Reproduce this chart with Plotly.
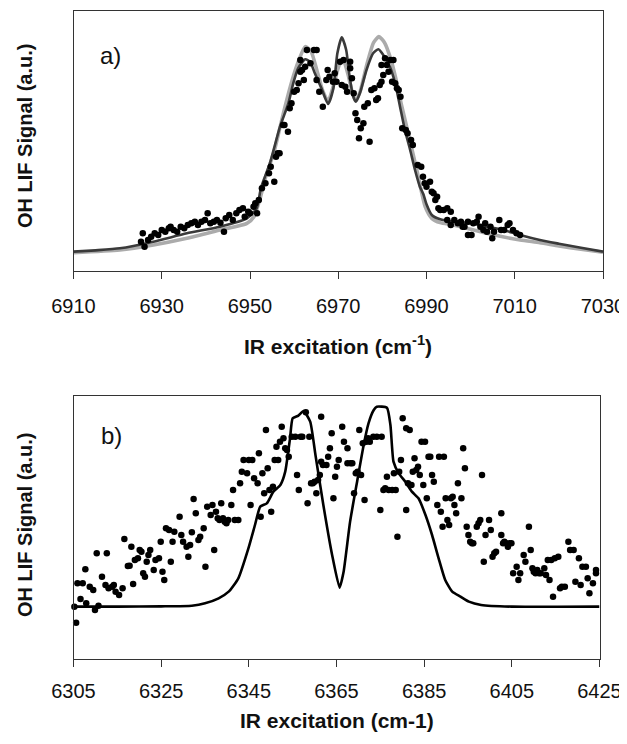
import plotly.graph_objects as go

# ---------------- Panel a) data ----------------
a_fit_dark_x = [6910, 6915, 6920.5, 6928.1, 6935.7, 6943.2, 6949.3, 6951.5, 6952.5, 6954.5, 6956.8,
                6958.7, 6959.8, 6960.9, 6962.5, 6963.6, 6964.7, 6966.2, 6967.7, 6968.9, 6969.8,
                6970.8, 6971.8, 6972.5, 6973.4, 6974.0, 6974.9, 6976.4, 6977.9, 6979.1, 6980.2,
                6981.7, 6982.9, 6984.0, 6985.1, 6986.3, 6987.4, 6988.5, 6989.3, 6990.0, 6991.2,
                6993.1, 6996.1, 6999.9, 7003.6, 7007.4, 7011.2, 7015.7, 7020, 7025, 7030]
a_fit_dark_y = [0.58, 0.62, 0.68, 0.88, 1.13, 1.33, 1.58, 1.88, 2.50, 3.23, 4.33,
                5.03, 5.63, 6.08, 6.35, 6.28, 5.93, 5.48, 5.01, 5.48, 6.53,
                7.01, 6.63, 5.90, 5.23, 5.08, 5.33, 6.03, 6.53, 6.65, 6.48,
                6.13, 5.63, 4.93, 4.23, 3.63, 3.03, 2.53, 2.30, 2.00, 1.68,
                1.55, 1.48, 1.43, 1.33, 1.23, 1.08, 0.93, 0.82, 0.70, 0.58]

a_fit_gray_x = [6910, 6920.5, 6928.1, 6935.7, 6943.2, 6949.3, 6950.9, 6952.2, 6953.5, 6955.5,
                6957.5, 6959.5, 6961, 6962.5, 6963.8, 6965.2, 6966.5, 6967.7, 6969, 6970.3,
                6971.2, 6972.2, 6973.3, 6974.0, 6975, 6976.5, 6978, 6979.2, 6980.5, 6981.8,
                6983, 6984.3, 6985.5, 6987.8, 6989.7, 6991.2, 6993.1, 6996.1, 7003.6, 7011.2,
                7015.7, 7020, 7025, 7030]
a_fit_gray_y = [0.55, 0.63, 0.78, 0.98, 1.23, 1.43, 1.63, 2.13, 2.80, 3.60,
                4.70, 5.70, 6.30, 6.73, 6.60, 6.00, 5.40, 5.10, 5.60, 6.20,
                6.30, 5.90, 5.30, 5.10, 5.40, 6.20, 6.85, 7.03, 6.85, 6.40,
                5.80, 5.00, 4.33, 3.03, 1.93, 1.58, 1.45, 1.38, 1.13, 0.93,
                0.85, 0.75, 0.65, 0.56]

a_data_x = [6925.7, 6925.3, 6926.1, 6926.9, 6927.6, 6928.4, 6929.2, 6930.0, 6930.8, 6931.6,
            6932.0, 6932.7, 6933.5, 6934.3, 6935.1, 6935.9, 6936.7, 6937.5, 6938.2, 6939.0,
            6939.8, 6940.4, 6941.0, 6941.8, 6942.5, 6943.3, 6944.1, 6944.5, 6945.3, 6946.1,
            6946.9, 6947.6, 6948.4, 6948.8, 6949.6, 6950.0, 6950.8, 6951.2, 6952.0, 6951.6,
            6952.7, 6953.5, 6954.3, 6954.7, 6955.5, 6955.9, 6956.3, 6956.7, 6957.5, 6957.8,
            6958.6, 6959.0, 6959.4, 6960.0, 6960.6, 6961.0, 6961.4, 6961.8, 6962.2, 6961.4,
            6962.5, 6962.9, 6963.7, 6964.5, 6965.1, 6965.1, 6965.7, 6966.5, 6967.3, 6967.6,
            6968.0, 6968.8, 6969.2, 6969.6, 6970.4, 6970.8, 6971.6, 6972.0, 6971.2, 6972.7,
            6972.7, 6973.1, 6973.5, 6973.9, 6974.3, 6975.1, 6974.7, 6975.7, 6977.1, 6975.9,
            6976.7, 6977.5, 6978.2, 6978.6, 6979.0, 6979.4, 6979.8, 6980.2, 6979.8, 6980.6,
            6981.0, 6981.8, 6982.5, 6981.4, 6982.2, 6982.9, 6983.3, 6983.7, 6984.1, 6984.5,
            6985.3, 6985.7, 6986.5, 6986.9, 6988.0, 6988.8, 6989.2, 6989.6, 6990.0, 6990.8,
            6991.2, 6991.6, 6992.0, 6992.4, 6992.7, 6993.1, 6993.9, 6994.7, 6995.5, 6994.7,
            6995.5, 6996.3, 6997.1, 6997.8, 6998.6, 6999.4, 7000.2, 7000.6, 7001.4, 7001.8,
            7002.2, 7002.9, 7003.3, 7003.7, 7004.5, 7005.3, 7004.9, 7006.5, 7006.9, 7007.6,
            7008.4, 7008.8, 7009.6, 7010.4, 7011.2, 6999.4, 6998.2]
a_data_y = [1.13, 0.88, 0.73, 0.93, 1.03, 1.13, 1.08, 1.23, 1.18, 1.28,
            1.33, 1.23, 1.18, 1.33, 1.28, 1.38, 1.43, 1.48, 1.38, 1.48,
            1.53, 1.73, 1.43, 1.48, 1.53, 1.45, 1.18, 1.58, 1.68, 1.53,
            1.73, 1.83, 1.88, 1.63, 1.78, 1.73, 1.93, 2.03, 2.13, 1.73,
            2.48, 2.63, 2.93, 3.13, 2.68, 3.43, 3.53, 3.53, 4.38, 4.38,
            4.18, 4.88, 5.03, 5.38, 5.43, 5.63, 5.98, 6.03, 5.73, 6.33,
            6.13, 6.63, 6.23, 6.63, 6.63, 5.73, 5.38, 4.93, 5.73, 6.03,
            5.83, 5.68, 5.93, 5.68, 6.28, 5.58, 5.53, 5.38, 6.33, 6.28,
            6.08, 5.78, 5.33, 4.73, 4.53, 4.28, 3.98, 4.43, 3.88, 4.93,
            5.03, 5.43, 5.48, 5.13, 5.18, 5.58, 5.68, 5.88, 6.18, 6.38,
            6.18, 6.33, 6.33, 5.98, 5.68, 5.63, 5.48, 5.43, 5.23, 4.28,
            4.23, 4.13, 3.93, 3.78, 3.18, 3.13, 2.83, 2.63, 2.53, 2.68,
            2.38, 2.33, 2.13, 2.23, 1.88, 1.83, 1.83, 1.88, 1.78, 1.53,
            1.38, 1.53, 1.43, 1.48, 1.33, 1.08, 1.08, 1.43, 1.48, 1.63,
            1.33, 1.23, 1.43, 1.18, 1.33, 1.18, 0.98, 1.53, 1.23, 1.23,
            1.38, 1.43, 1.23, 1.13, 1.08, 1.48, 1.33]

a_ticks = [6910, 6930, 6950, 6970, 6990, 7010, 7030]

# ---------------- Panel b) data ----------------
b_fit_x = [6305, 6315, 6325, 6332, 6335, 6338.1, 6340.4, 6342.6, 6344.9, 6346.4, 6347.6,
           6349.1, 6350.6, 6352.2, 6353.3, 6354.4, 6355.0, 6356.3, 6357.5, 6359.0, 6360.2,
           6362.0, 6364.0, 6365.7, 6366.6, 6368.1, 6369.7, 6371.2, 6372.3, 6373.5, 6374.2,
           6376.5, 6377.3, 6378.0, 6379.2, 6380.7, 6382.2, 6383.7, 6385.3, 6386.8, 6388.3,
           6389.8, 6391.4, 6393.3, 6395.2, 6398, 6405, 6425]
b_fit_y = [1.57, 1.57, 1.58, 1.60, 1.67, 1.82, 2.02, 2.42, 3.32, 4.02, 4.57,
           4.67, 5.02, 5.22, 5.62, 6.62, 7.22, 7.30, 7.44, 7.12, 6.12,
           4.62, 3.12, 2.14, 2.60, 4.12, 5.32, 6.42, 7.07, 7.47, 7.57,
           7.54, 7.02, 5.92, 5.57, 5.32, 5.02, 4.82, 4.32, 3.72, 3.02,
           2.37, 2.02, 1.87, 1.72, 1.62, 1.57, 1.57]

b_data_x = [6305.2, 6305.6, 6306.6, 6307.9, 6309.9, 6310.7, 6305.9, 6307.1, 6308.7, 6309.5,
            6307.7, 6310.3, 6312.6, 6311.5, 6312.3, 6313.0, 6313.8, 6314.6, 6315.4, 6316.2,
            6314.2, 6316.6, 6317.4, 6317.8, 6318.2, 6318.6, 6319.0, 6319.7, 6320.1, 6320.5,
            6320.9, 6321.3, 6321.7, 6322.1, 6322.5, 6323.3, 6323.7, 6324.5, 6325.3, 6325.7,
            6324.9, 6326.1, 6326.8, 6327.2, 6327.6, 6328.0, 6329.2, 6329.6, 6330.0, 6330.8,
            6331.2, 6331.6, 6332.0, 6332.4, 6332.9, 6333.5, 6333.9, 6334.7, 6335.1, 6335.5,
            6336.3, 6336.7, 6337.1, 6337.5, 6337.9, 6338.3, 6338.7, 6339.1, 6339.5, 6339.9,
            6340.3, 6341.0, 6341.4, 6341.8, 6342.6, 6343.0, 6343.4, 6343.8, 6344.6, 6345.0,
            6345.4, 6345.8, 6346.2, 6347.0, 6347.3, 6347.7, 6348.1, 6348.5, 6348.9, 6349.3,
            6349.7, 6350.1, 6350.5, 6350.9, 6351.3, 6351.7, 6352.1, 6352.5, 6352.9, 6353.3,
            6353.7, 6354.1, 6354.8, 6355.6, 6356.0, 6356.4, 6356.8, 6357.2, 6358.0, 6358.4,
            6358.8, 6359.2, 6359.6, 6360.0, 6360.4, 6360.8, 6361.2, 6361.5, 6361.5, 6361.9,
            6362.7, 6363.1, 6363.5, 6363.9, 6364.3, 6364.7, 6365.1, 6365.5, 6366.3, 6366.7,
            6367.5, 6367.5, 6368.2, 6368.6, 6369.0, 6369.4, 6369.8, 6370.2, 6370.6, 6371.4,
            6371.0, 6371.8, 6372.2, 6372.6, 6373.4, 6374.2, 6375.0, 6375.3, 6375.7, 6376.1,
            6376.5, 6376.9, 6377.7, 6378.1, 6378.5, 6378.9, 6379.3, 6379.7, 6380.1, 6380.9,
            6380.9, 6381.3, 6381.7, 6382.1, 6382.4, 6382.8, 6383.2, 6383.6, 6384.0, 6384.4,
            6385.2, 6384.8, 6385.6, 6386.0, 6386.4, 6386.8, 6387.2, 6388.0, 6388.4, 6388.8,
            6389.2, 6389.5, 6389.9, 6390.3, 6390.7, 6391.1, 6391.9, 6391.5, 6392.3, 6392.7,
            6393.5, 6393.9, 6394.3, 6394.7, 6395.1, 6395.5, 6395.9, 6396.2, 6397.0, 6397.4,
            6397.8, 6398.2, 6398.6, 6399.0, 6399.8, 6400.2, 6400.6, 6401.0, 6401.4, 6402.6,
            6402.6, 6403.0, 6403.3, 6403.7, 6404.1, 6404.5, 6404.9, 6405.3, 6406.1, 6406.5,
            6406.9, 6407.7, 6408.1, 6408.9, 6409.3, 6409.7, 6410.0, 6410.4, 6410.8, 6411.2,
            6411.6, 6412.4, 6412.8, 6413.2, 6413.6, 6414.0, 6414.4, 6414.8, 6415.6, 6416.0,
            6416.4, 6417.1, 6417.9, 6418.3, 6419.1, 6419.5, 6420.3, 6420.7, 6421.1, 6421.9,
            6422.3, 6422.7, 6423.5, 6424.2, 6424.2]
b_data_y = [1.57, 1.09, 1.80, 1.67, 1.47, 1.60, 2.27, 2.27, 2.17, 2.07,
            2.69, 3.17, 3.17, 2.47, 2.22, 2.12, 2.17, 2.02, 1.92, 2.12,
            2.22, 3.60, 2.79, 2.80, 3.37, 2.25, 2.97, 3.02, 3.27, 3.22,
            2.57, 2.47, 2.92, 3.12, 3.27, 2.67, 2.97, 3.02, 2.62, 2.37,
            3.52, 3.92, 3.87, 2.92, 3.52, 3.82, 4.27, 3.72, 3.52, 3.37,
            3.07, 3.42, 3.80, 4.80, 4.37, 3.57, 3.67, 3.92, 2.77, 4.57,
            4.32, 4.62, 3.27, 4.42, 4.22, 4.17, 4.67, 4.22, 4.12, 4.07,
            4.17, 4.62, 5.07, 4.17, 4.17, 5.27, 5.62, 5.97, 5.57, 5.97,
            4.62, 5.97, 5.42, 5.27, 6.17, 4.27, 5.57, 4.97, 6.87, 5.72,
            5.07, 4.42, 5.17, 5.97, 6.37, 5.97, 6.52, 6.97, 6.62, 6.32,
            6.27, 6.07, 6.67, 6.67, 5.52, 5.07, 6.67, 6.67, 7.40, 4.67,
            6.67, 5.27, 5.27, 5.32, 4.97, 5.37, 5.52, 7.27, 5.92, 5.82,
            5.82, 6.07, 6.32, 6.77, 4.82, 5.47, 5.77, 5.97, 6.97, 6.52,
            6.32, 5.87, 5.87, 5.87, 4.97, 5.57, 5.62, 6.87, 5.52, 4.77,
            6.47, 6.52, 6.62, 6.52, 6.67, 6.67, 4.47, 6.67, 5.07, 5.12,
            5.47, 5.07, 5.07, 5.57, 5.07, 3.67, 5.62, 5.97, 7.22, 6.92,
            4.47, 5.27, 6.87, 5.22, 5.62, 6.02, 5.67, 5.77, 5.52, 6.52,
            6.52, 5.22, 4.82, 6.07, 6.07, 5.52, 5.32, 4.62, 6.07, 4.42,
            3.97, 6.07, 4.82, 4.17, 4.02, 4.82, 4.62, 4.87, 4.37, 5.27,
            4.82, 6.32, 5.72, 3.97, 3.72, 3.52, 3.47, 3.47, 3.97, 4.07,
            4.17, 5.52, 2.92, 3.72, 4.17, 3.87, 3.07, 3.17, 3.22, 4.37,
            3.72, 3.47, 3.52, 3.47, 3.37, 3.47, 3.47, 2.57, 2.77, 2.37,
            2.57, 3.12, 2.92, 3.97, 3.27, 2.72, 2.62, 2.57, 2.67, 2.57,
            2.57, 2.72, 2.52, 2.97, 2.37, 2.97, 1.87, 3.02, 3.07, 2.12,
            2.17, 2.17, 3.52, 3.27, 3.27, 2.32, 3.02, 2.22, 2.77, 2.77,
            2.42, 1.97, 2.27, 2.67, 2.57]

b_ticks = [6305, 6325, 6345, 6365, 6385, 6405, 6425]

x_title_a = "<b>IR excitation (cm<sup>-1</sup>)</b>"
x_title_b = "<b>IR excitation (cm-1)</b>"
y_title = "<b>OH LIF Signal (a.u.)</b>"

# The page body has an 8 px margin, so the figure is sized to fill the rest
OFF = 8
W, H = 627 - OFF, 744 - OFF
FONT = "Liberation Sans, Arial, Helvetica, sans-serif"

fig = go.Figure()
fig.add_trace(go.Scatter(x=a_fit_gray_x, y=a_fit_gray_y, mode="lines",
                         line=dict(color="#ababab", width=3.6, shape="spline", smoothing=0.6),
                         xaxis="x", yaxis="y", showlegend=False, hoverinfo="skip"))
fig.add_trace(go.Scatter(x=a_fit_dark_x, y=a_fit_dark_y, mode="lines",
                         line=dict(color="#3a3a3a", width=2.6, shape="spline", smoothing=0.6),
                         xaxis="x", yaxis="y", showlegend=False, hoverinfo="skip"))
fig.add_trace(go.Scatter(x=a_data_x, y=a_data_y, mode="markers",
                         marker=dict(color="#000000", size=6.5),
                         xaxis="x", yaxis="y", showlegend=False))
fig.add_trace(go.Scatter(x=b_fit_x, y=b_fit_y, mode="lines",
                         line=dict(color="#000000", width=2.6, shape="spline", smoothing=0.5),
                         xaxis="x2", yaxis="y2", showlegend=False, hoverinfo="skip"))
fig.add_trace(go.Scatter(x=b_data_x, y=b_data_y, mode="markers",
                         marker=dict(color="#000000", size=6.5),
                         xaxis="x2", yaxis="y2", showlegend=False, cliponaxis=False))

def px_x(p):
    return (p - OFF) / W

def px_y(p):
    return 1 - (p - OFF) / H

xcommon = dict(showline=True, linecolor="#333333", linewidth=1.3, mirror=True,
               ticks="outside", ticklen=7, tickwidth=1, tickcolor="#333333",
               showgrid=False, zeroline=False, automargin=False,
               tickfont=dict(family=FONT, size=20, color="#111111"))
ycommon = dict(showline=True, linecolor="#333333", linewidth=1.3, mirror=True,
               showticklabels=False, ticks="", showgrid=False, zeroline=False,
               automargin=False)

fig.update_layout(
    width=W, height=H,
    margin=dict(l=0, r=0, t=0, b=0, autoexpand=False),
    paper_bgcolor="white", plot_bgcolor="white",
    xaxis=dict(domain=[px_x(73.5), px_x(603)], range=[6910, 7030], tickvals=a_ticks,
               anchor="y", ticklabelstandoff=10, **xcommon),
    yaxis=dict(domain=[px_y(271), px_y(11)], range=[0, 7.8], anchor="x", **ycommon),
    xaxis2=dict(domain=[px_x(73.5), px_x(599.5)], range=[6305, 6425], tickvals=b_ticks,
                anchor="y2", ticklabelstandoff=7, **xcommon),
    yaxis2=dict(domain=[px_y(659), px_y(396)], range=[0, 7.89], anchor="x2", **ycommon),
    annotations=[
        dict(text=x_title_a, x=px_x(338), y=px_y(345), xref="paper", yref="paper",
             showarrow=False, xanchor="center", yanchor="middle",
             font=dict(family=FONT, size=21, color="#111111")),
        dict(text=x_title_b, x=px_x(336.5), y=px_y(720), xref="paper", yref="paper",
             showarrow=False, xanchor="center", yanchor="middle",
             font=dict(family=FONT, size=21, color="#111111")),
        dict(text=y_title, x=px_x(25), y=px_y(136), xref="paper", yref="paper",
             showarrow=False, xanchor="center", yanchor="middle", textangle=-90,
             font=dict(family=FONT, size=20, color="#111111")),
        dict(text=y_title, x=px_x(25), y=px_y(525), xref="paper", yref="paper",
             showarrow=False, xanchor="center", yanchor="middle", textangle=-90,
             font=dict(family=FONT, size=20, color="#111111")),
        dict(text="a)", x=px_x(110), y=px_y(56), xref="paper", yref="paper",
             showarrow=False, xanchor="center", yanchor="middle",
             font=dict(family=FONT, size=24, color="#111111")),
        dict(text="b)", x=px_x(111), y=px_y(435), xref="paper", yref="paper",
             showarrow=False, xanchor="center", yanchor="middle",
             font=dict(family=FONT, size=24, color="#111111")),
    ],
)

fig.write_html("out.html")
